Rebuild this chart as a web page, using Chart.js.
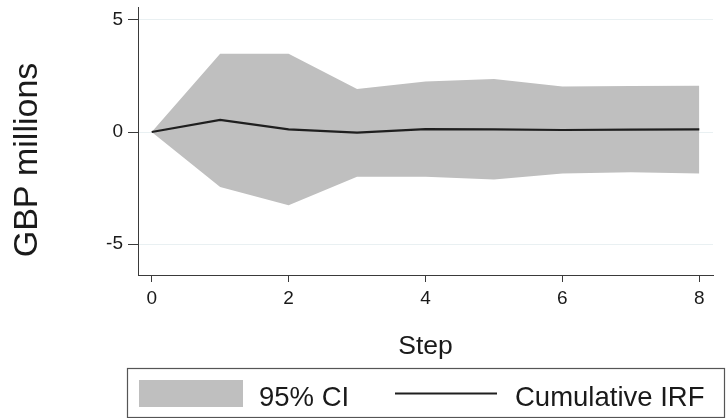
<!DOCTYPE html>
<html>
<head>
<meta charset="utf-8">
<script src="https://cdn.jsdelivr.net/npm/chart.js@4.4.1/dist/chart.umd.min.js"></script>
<style>
  html, body { margin: 0; padding: 0; background: #ffffff; }
  #wrap { width: 726px; height: 418px; position: relative; }
</style>
</head>
<body>
<div id="wrap"><canvas id="c" width="726" height="418"></canvas></div>
<script>
// ---- data ----
const steps = [0, 1, 2, 3, 4, 5, 6, 7, 8];
const irf   = [0, 0.54, 0.12, -0.03, 0.13, 0.12, 0.09, 0.11, 0.12];
const ciUpper = [0, 3.49, 3.49, 1.92, 2.26, 2.37, 2.03, 2.05, 2.07];
const ciLower = [0, -2.45, -3.27, -1.99, -2.0, -2.12, -1.85, -1.8, -1.85];
const xTicks = [0, 2, 4, 6, 8];
const yTicks = [-5, 0, 5];
const yTitle = 'GBP millions';
const xTitle = 'Step';
const legendLabels = ['95% CI', 'Cumulative IRF'];

const FONT = "'Liberation Sans', Arial, Helvetica, sans-serif";
const TEXT = '#1a1a1a';
const AXIS = '#3a3a3a';
const CI_COLOR = '#bfbfbf';
const LINE_COLOR = '#1f1f1f';

const pts = (arr) => steps.map((s, i) => ({ x: s, y: arr[i] }));

const customDraw = {
  id: 'customDraw',
  afterDraw(chart) {
    const ctx = chart.ctx;
    ctx.save();
    // y-axis title
    ctx.translate(27.5, 160);
    ctx.rotate(-Math.PI / 2);
    ctx.font = '34px ' + FONT;
    ctx.fillStyle = TEXT;
    ctx.textAlign = 'center';
    ctx.textBaseline = 'middle';
    ctx.fillText(yTitle, 0, 0);
    ctx.restore();

    // legend box
    ctx.save();
    ctx.strokeStyle = '#555555';
    ctx.lineWidth = 1.2;
    ctx.strokeRect(127.5, 368.5, 597, 49);
    // CI swatch
    ctx.fillStyle = CI_COLOR;
    ctx.fillRect(139, 380, 104, 27);
    ctx.font = '27.5px ' + FONT;
    ctx.fillStyle = TEXT;
    ctx.textAlign = 'left';
    ctx.textBaseline = 'alphabetic';
    ctx.fillText(legendLabels[0], 259, 405.5);
    // line swatch
    ctx.strokeStyle = LINE_COLOR;
    ctx.lineWidth = 2;
    ctx.beginPath();
    ctx.moveTo(395, 393.5);
    ctx.lineTo(497, 393.5);
    ctx.stroke();
    ctx.fillText(legendLabels[1], 515, 405.5);
    ctx.restore();
  }
};

new Chart(document.getElementById('c'), {
  type: 'line',
  data: {
    datasets: [
      {
        label: legendLabels[0] + ' upper',
        data: pts(ciUpper),
        borderWidth: 0,
        borderColor: CI_COLOR,
        backgroundColor: CI_COLOR,
        pointRadius: 0,
        fill: '+1',
        tension: 0,
        order: 2
      },
      {
        label: legendLabels[0] + ' lower',
        data: pts(ciLower),
        borderWidth: 0,
        borderColor: CI_COLOR,
        backgroundColor: CI_COLOR,
        pointRadius: 0,
        fill: false,
        tension: 0,
        order: 2
      },
      {
        label: legendLabels[1],
        data: pts(irf),
        borderWidth: 2.2,
        borderColor: LINE_COLOR,
        pointRadius: 0,
        fill: false,
        tension: 0,
        order: 1
      }
    ]
  },
  options: {
    responsive: false,
    animation: false,
    devicePixelRatio: 1,
    layout: { padding: { left: 0, right: 13, top: 7, bottom: 55 } },
    plugins: {
      legend: { display: false },
      tooltip: { enabled: false },
      filler: { propagate: false }
    },
    scales: {
      x: {
        type: 'linear',
        min: -0.2,
        max: 8.2,
        afterFit(scale) {
          scale.height = 88;
          scale.paddingLeft = 0; scale.paddingRight = 0;
          scale.paddingTop = 0; scale.paddingBottom = 0;
        },
        afterBuildTicks(scale) { scale.ticks = xTicks.map(v => ({ value: v })); },
        ticks: {
          font: { family: FONT, size: 19 },
          color: TEXT,
          padding: 5,
          maxRotation: 0,
          autoSkip: false
        },
        grid: {
          drawOnChartArea: false,
          drawTicks: true,
          tickLength: 7,
          tickColor: AXIS,
          tickWidth: 1
        },
        border: { display: true, color: AXIS, width: 1 },
        title: {
          display: true,
          text: xTitle,
          font: { family: FONT, size: 26.5 },
          color: TEXT,
          padding: { top: 0, bottom: 0 }
        }
      },
      y: {
        type: 'linear',
        min: -6.38,
        max: 5.58,
        afterFit(scale) {
          scale.width = 138;
          scale.paddingLeft = 0; scale.paddingRight = 0;
          scale.paddingTop = 0; scale.paddingBottom = 0;
        },
        afterBuildTicks(scale) { scale.ticks = yTicks.map(v => ({ value: v })); },
        ticks: {
          font: { family: FONT, size: 19 },
          color: TEXT,
          padding: 5
        },
        grid: {
          drawOnChartArea: true,
          color: '#e9f0f2',
          lineWidth: 1,
          drawTicks: true,
          tickLength: 10,
          tickColor: AXIS,
          tickWidth: 1
        },
        border: { display: true, color: AXIS, width: 1 }
      }
    }
  },
  plugins: [customDraw]
});
</script>
</body>
</html>
